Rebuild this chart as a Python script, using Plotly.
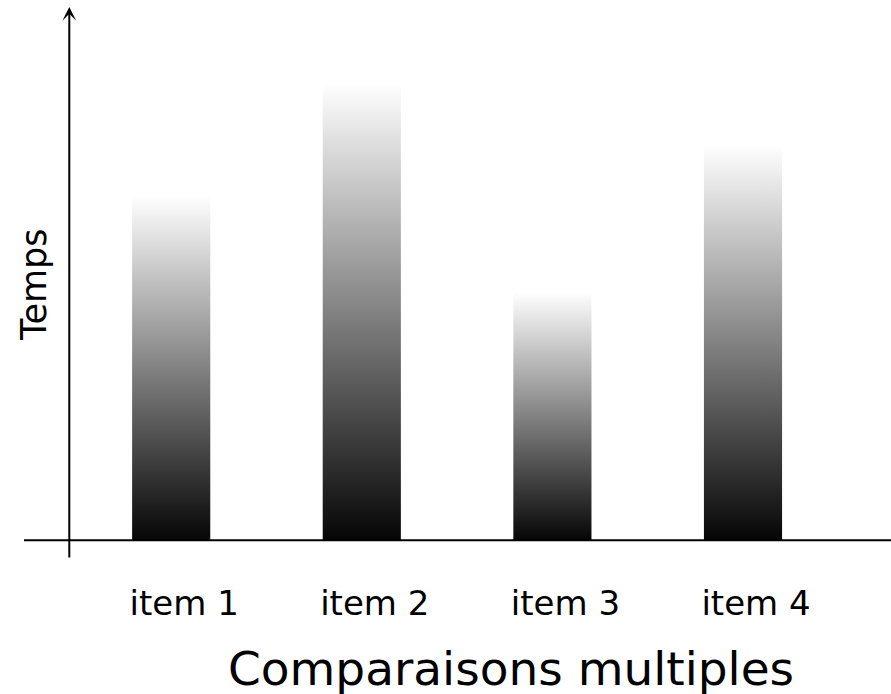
import plotly.graph_objects as go

# ---- data ----
categories = ["item 1", "item 2", "item 3", "item 4"]
values = [3.46, 4.58, 2.49, 3.96]          # "Temps" (arbitrary units)
x_title = "Comparaisons multiples"
y_title = "Temps"

# ---- layout constants ----
W, H = 891, 694
PLOT_BOTTOM = 541           # pixel row of the baseline
BAR_W = 0.41                # bar width in category units
X_RANGE = [-0.8982, 3.7765]
Y_RANGE = [0, 5.41]
FONT = "DejaVu Sans"

fig = go.Figure()

for i, (cat, v) in enumerate(zip(categories, values)):
    x0, x1 = i - BAR_W / 2, i + BAR_W / 2
    fig.add_trace(go.Scatter(
        x=[x0, x1, x1, x0, x0],
        y=[0, 0, v, v, 0],
        mode="lines",
        line=dict(width=0),
        fill="toself",
        fillgradient=dict(type="vertical",
                          colorscale=[[0, "#050505"], [1, "#ffffff"]]),
        hoverinfo="skip",
        showlegend=False,
    ))

def py(p):
    """pixel row -> paper y"""
    return (PLOT_BOTTOM - p) / PLOT_BOTTOM

fig.update_layout(
    width=W, height=H,
    margin=dict(l=0, r=0, t=0, b=H - PLOT_BOTTOM, pad=0),
    paper_bgcolor="white", plot_bgcolor="white",
    showlegend=False,
    xaxis=dict(range=X_RANGE, showgrid=False, zeroline=False, showline=False,
               tickmode="array", tickvals=list(range(len(categories))),
               ticktext=categories, ticks="",
               tickfont=dict(family=FONT, size=34, color="black"),
               ticklabelshift=13, ticklabelstandoff=39, fixedrange=True),
    yaxis=dict(range=Y_RANGE, showgrid=False, zeroline=False, showline=False,
               showticklabels=False, ticks="", fixedrange=True),
    shapes=[
        dict(type="line", xref="paper", yref="paper",
             x0=24 / W, x1=1, y0=py(540.3), y1=py(540.3),
             line=dict(color="black", width=2)),
    ],
    annotations=[
        # y axis with arrow
        dict(xref="paper", yref="paper", x=69.3 / W, y=py(7),
             ax=0, ay=552, axref="pixel", ayref="pixel",
             text="", showarrow=True, arrowhead=3, arrowsize=1.15,
             arrowwidth=2, arrowcolor="black", standoff=0),
        dict(xref="paper", yref="paper", x=511 / W, y=py(668),
             text=x_title, showarrow=False, xanchor="center", yanchor="middle",
             font=dict(family=FONT, size=47, color="black")),
        dict(xref="paper", yref="paper", x=34 / W, y=py(285),
             text=y_title, showarrow=False, textangle=-90,
             xanchor="center", yanchor="middle",
             font=dict(family=FONT, size=35, color="black")),
    ],
)

fig.write_html("out.html",
               config={"displayModeBar": False},
               post_script="document.body.style.margin='0';document.body.style.overflow='hidden';")
